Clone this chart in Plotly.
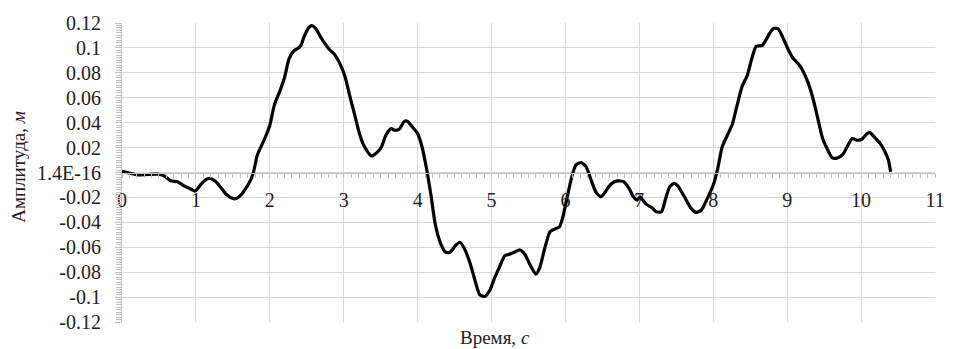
import plotly.graph_objects as go

# Time samples, s
time_s = [
    0.00, 0.10, 0.21, 0.35, 0.48, 0.57, 0.66, 0.75, 0.84, 0.93, 0.99,
    1.06, 1.13, 1.19, 1.26, 1.33, 1.42, 1.51, 1.55, 1.62, 1.68, 1.74,
    1.78, 1.83, 1.88, 1.95, 2.00, 2.06, 2.13, 2.20, 2.26, 2.33, 2.37,
    2.42, 2.46, 2.53, 2.57, 2.62, 2.69, 2.80, 2.88, 2.95, 3.02, 3.08,
    3.15, 3.20, 3.26, 3.33, 3.37, 3.44, 3.51, 3.57, 3.64, 3.69, 3.75,
    3.82, 3.86, 3.93, 4.00, 4.06, 4.12, 4.18, 4.24, 4.31, 4.38, 4.44,
    4.51, 4.57, 4.63, 4.71, 4.78, 4.84, 4.91, 4.98, 5.04, 5.11, 5.18,
    5.24, 5.31, 5.38, 5.45, 5.51, 5.60, 5.65, 5.72, 5.79, 5.85, 5.92,
    5.96, 6.01, 6.08, 6.14, 6.21, 6.28, 6.34, 6.41, 6.48, 6.54, 6.61,
    6.70, 6.79, 6.86, 6.92, 6.97, 7.01, 7.08, 7.17, 7.23, 7.30, 7.35,
    7.41, 7.47, 7.52, 7.61, 7.70, 7.77, 7.84, 7.92, 8.00, 8.06, 8.12,
    8.19, 8.26, 8.31, 8.39, 8.46, 8.52, 8.58, 8.66, 8.70, 8.77, 8.82,
    8.88, 8.95, 9.01, 9.08, 9.15, 9.21, 9.28, 9.35, 9.41, 9.48, 9.55,
    9.61, 9.68, 9.75, 9.81, 9.88, 9.95, 10.01, 10.08, 10.12, 10.19,
    10.26, 10.32, 10.37, 10.40,
]

# Amplitude, m
amplitude_m = [
    0.0010, -0.0005, -0.0020, -0.0016, -0.0013, -0.0027, -0.0067, -0.0075,
    -0.0107, -0.0133, -0.0149, -0.0101, -0.0059, -0.0048, -0.0069, -0.0115,
    -0.0181, -0.0211, -0.0208, -0.0173, -0.0123, -0.0061, 0.0005, 0.0139,
    0.0205, 0.0299, 0.0379, 0.0539, 0.0645, 0.0765, 0.0912, 0.0979, 0.0992,
    0.1019, 0.1085, 0.1165, 0.1179, 0.1157, 0.1085, 0.0992, 0.0944, 0.0872,
    0.0765, 0.0619, 0.0459, 0.0339, 0.0232, 0.0160, 0.0133, 0.0155, 0.0205,
    0.0299, 0.0352, 0.0339, 0.0347, 0.0411, 0.0411, 0.0365, 0.0312, 0.0205,
    0.0032, -0.0181, -0.0421, -0.0568, -0.0640, -0.0640, -0.0587, -0.0560,
    -0.0608, -0.0728, -0.0875, -0.0981, -0.0995, -0.0941, -0.0848, -0.0755,
    -0.0667, -0.0656, -0.0640, -0.0621, -0.0656, -0.0728, -0.0816, -0.0768,
    -0.0608, -0.0475, -0.0456, -0.0435, -0.0368, -0.0235, -0.0048, 0.0059,
    0.0080, 0.0045, -0.0048, -0.0155, -0.0195, -0.0155, -0.0096, -0.0067,
    -0.0075, -0.0128, -0.0195, -0.0221, -0.0195, -0.0248, -0.0283, -0.0315,
    -0.0315, -0.0221, -0.0115, -0.0088, -0.0107, -0.0195, -0.0288, -0.0320,
    -0.0301, -0.0208, -0.0101, 0.0032, 0.0205, 0.0299, 0.0392, 0.0510,
    0.0690, 0.0779, 0.0912, 0.1013, 0.1019, 0.1051, 0.1125, 0.1157, 0.1152,
    0.1072, 0.0992, 0.0917, 0.0872, 0.0819, 0.0725, 0.0592, 0.0445, 0.0272,
    0.0179, 0.0117, 0.0117, 0.0144, 0.0205, 0.0272, 0.0259, 0.0267, 0.0312,
    0.0320, 0.0277, 0.0232, 0.0171, 0.0099, 0.0005,
]

x_ticks = list(range(0, 12))
y_ticks = [-0.12, -0.10, -0.08, -0.06, -0.04, -0.02, 0.0,
           0.02, 0.04, 0.06, 0.08, 0.10, 0.12]
y_tick_labels = ["-0.12", "-0.1", "-0.08", "-0.06", "-0.04", "-0.02", "1.4E-16",
                 "0.02", "0.04", "0.06", "0.08", "0.1", "0.12"]

FONT = "Liberation Serif, Times New Roman, serif"
GRID = "#d9d9d9"
AXIS = "#bfbfbf"

fig = go.Figure()
fig.add_trace(go.Scatter(
    x=time_s, y=amplitude_m, mode="lines",
    line=dict(color="black", width=3.2, shape="spline", smoothing=0.6),
    hoverinfo="skip", showlegend=False,
))

fig.update_layout(
    width=955, height=349,
    margin=dict(l=122, r=10, t=23, b=27),
    paper_bgcolor="white", plot_bgcolor="white",
    font=dict(family=FONT, size=20, color="#222222"),
    xaxis=dict(
        range=[0, 11], tickvals=x_ticks, ticktext=[str(v) for v in x_ticks],
        anchor="free", position=0.5,
        showline=True, linecolor=AXIS, linewidth=1,
        showgrid=True, gridcolor=GRID, gridwidth=1, zeroline=False,
        ticks="outside", ticklen=4, tickcolor=AXIS,
        ticklabelstandoff=5,
        minor=dict(dtick=0.1, ticks="outside", ticklen=4, tickcolor=AXIS,
                   showgrid=False),
        tickfont=dict(family=FONT, size=20, color="#222222"),
    ),
    yaxis=dict(
        range=[-0.12, 0.12], tickvals=y_ticks, ticktext=y_tick_labels,
        showline=True, linecolor=AXIS, linewidth=1,
        showgrid=True, gridcolor=GRID, gridwidth=1, zeroline=False,
        ticks="outside", ticklen=6, tickcolor=AXIS,
        ticklabelstandoff=10,
        minor=dict(dtick=0.002, tick0=0, ticks="outside", ticklen=5,
                   tickcolor=AXIS, showgrid=False),
        tickfont=dict(family=FONT, size=20, color="#222222"),
    ),
    annotations=[
        dict(text="Время, <i>с</i>", xref="paper", yref="paper",
             x=(500 - 122) / 823, y=-(337 - 322) / 299,
             xanchor="center", yanchor="middle", showarrow=False,
             font=dict(family=FONT, size=19, color="#222222")),
        dict(text="Амплитуда, <i>м</i>", xref="paper", yref="paper",
             x=-(122 - 17) / 823, y=(322 - 166.5) / 299,
             xanchor="center", yanchor="middle", textangle=-90,
             showarrow=False,
             font=dict(family=FONT, size=19, color="#222222")),
    ],
)

fig.write_html("out.html")
